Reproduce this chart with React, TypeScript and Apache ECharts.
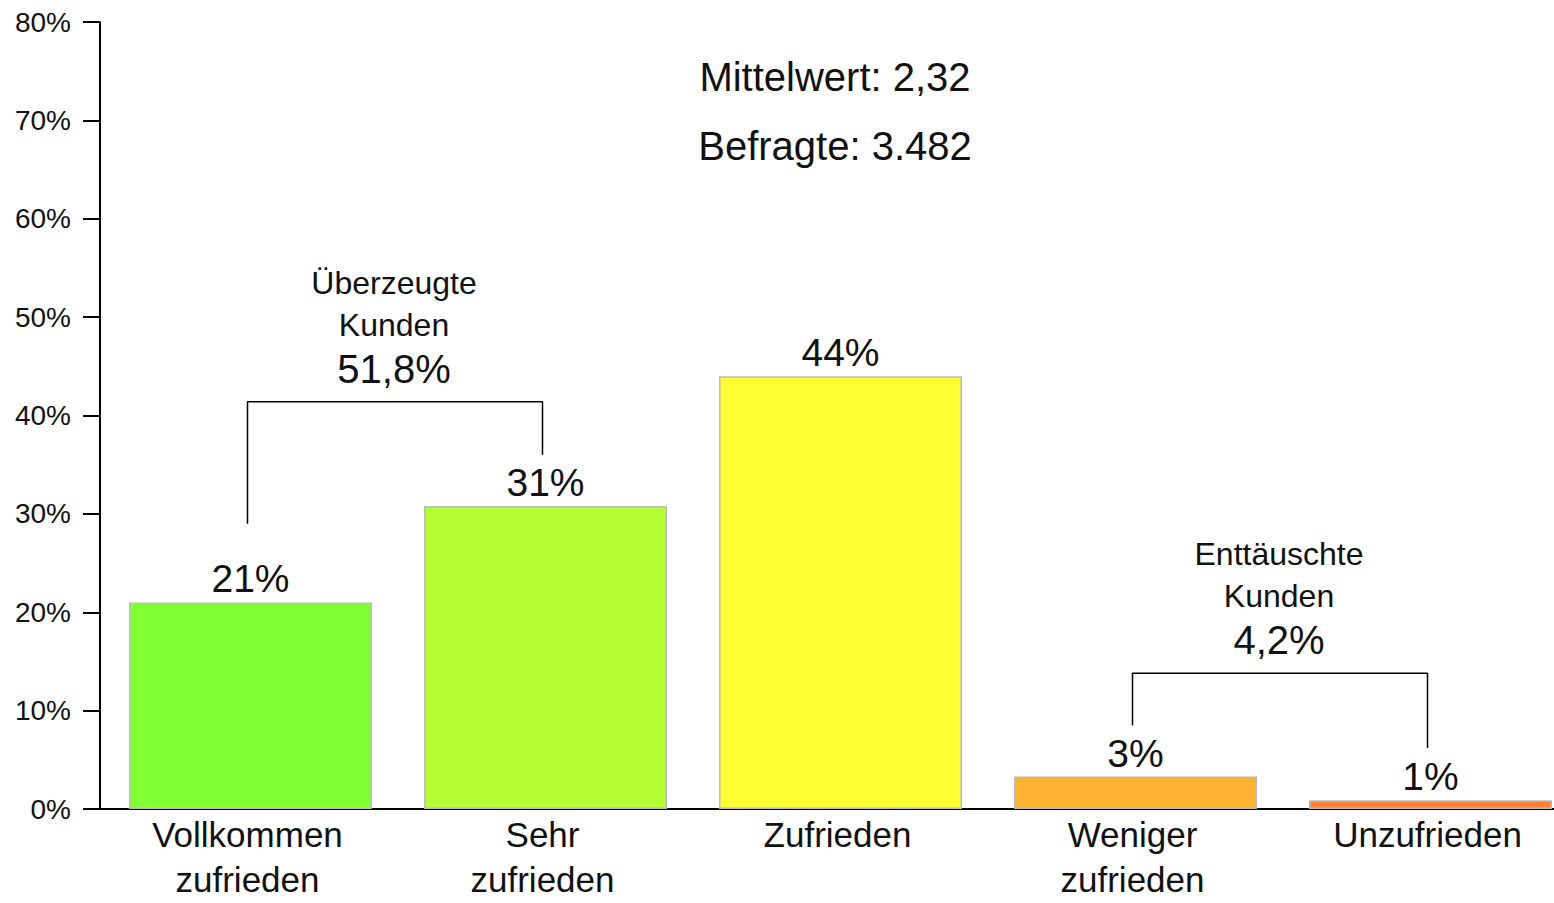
import React, { useEffect, useRef } from 'react';
import * as echarts from 'echarts';

const FONT = '"Liberation Sans", Arial, sans-serif';

const categories = ['Vollkommen\nzufrieden', 'Sehr\nzufrieden', 'Zufrieden', 'Weniger\nzufrieden', 'Unzufrieden'];
const shares = [21.0, 30.8, 44.0, 3.3, 0.9];
const barColors = ['#80ff33', '#b3ff33', '#ffff33', '#ffb333', '#ff8033'];
const yMin = 0;
const yMax = 80;
const yInterval = 10;
const bracketConvinced = [[0, 29.0], [0, 41.4], [1, 41.4], [1, 36.0]];
const bracketDisappointed = [[3, 8.5], [3, 13.8], [4, 13.8], [4, 6.2]];
const groupConvincedLines = ['Überzeugte', 'Kunden', '51,8%'];
const groupDisappointedLines = ['Enttäuschte', 'Kunden', '4,2%'];
const statsLines = ['Mittelwert: 2,32', 'Befragte: 3.482'];

function txt(text: string, x: number, y: number, size: number) {
  return {
    type: 'text',
    x,
    y,
    style: {
      text,
      fontSize: size,
      fontFamily: FONT,
      fill: '#111',
      align: 'center',
      verticalAlign: 'middle',
    },
  };
}

export default function App() {
  const ref = useRef<HTMLDivElement>(null);
  useEffect(() => {
    if (!ref.current) return;
    const chart = echarts.init(ref.current, undefined, { renderer: 'svg' });
    const gridBase = { top: 22, height: 787, width: 1475, outerBoundsMode: 'none', containLabel: false };
    chart.setOption({
      animation: false,
      backgroundColor: '#fff',
      textStyle: { fontFamily: FONT },
      grid: [
        { ...gridBase, left: 100 },
        { ...gridBase, left: 103 },
      ],
      xAxis: [
        {
          type: 'category',
          gridIndex: 0,
          data: categories,
          boundaryGap: true,
          axisLine: { show: true, lineStyle: { color: '#000', width: 2 } },
          axisTick: { show: false },
          axisLabel: {
            interval: 0,
            fontSize: 35,
            lineHeight: 45,
            margin: 3,
            color: '#111',
            fontFamily: FONT,
          },
          splitLine: { show: false },
        },
        {
          type: 'category',
          gridIndex: 1,
          data: categories,
          boundaryGap: true,
          show: false,
        },
      ],
      yAxis: [
        {
          type: 'value',
          gridIndex: 0,
          min: yMin,
          max: yMax,
          interval: yInterval,
          axisLine: { show: true, lineStyle: { color: '#000', width: 2 } },
          axisTick: { show: true, length: 17, lineStyle: { color: '#000', width: 2 } },
          axisLabel: {
            formatter: '{value}%',
            fontSize: 28,
            margin: 29,
            color: '#111',
            fontFamily: FONT,
          },
          splitLine: { show: false },
        },
        {
          type: 'value',
          gridIndex: 1,
          min: yMin,
          max: yMax,
          interval: yInterval,
          show: false,
          splitLine: { show: false },
        },
      ],
      series: [
        {
          type: 'bar',
          xAxisIndex: 1,
          yAxisIndex: 1,
          barWidth: 243,
          data: shares.map((v, i) => ({ value: v, itemStyle: { color: barColors[i] } })),
          itemStyle: { borderColor: '#bbb', borderWidth: 1.5 },
          label: {
            show: true,
            position: 'top',
            distance: 4,
            formatter: (p: any) => Math.round(p.value) + '%',
            fontSize: 39,
            color: '#111',
            fontFamily: FONT,
          },
        },
        {
          type: 'line',
          xAxisIndex: 0,
          yAxisIndex: 0,
          data: bracketConvinced,
          symbol: 'none',
          lineStyle: { color: '#000', width: 1.5 },
          z: 5,
        },
        {
          type: 'line',
          xAxisIndex: 0,
          yAxisIndex: 0,
          data: bracketDisappointed,
          symbol: 'none',
          lineStyle: { color: '#000', width: 1.5 },
          z: 5,
        },
      ],
      graphic: [
        txt(statsLines[0], 835, 77, 40),
        txt(statsLines[1], 835, 146, 40),
        txt(groupConvincedLines[0], 394, 283, 32),
        txt(groupConvincedLines[1], 394, 325, 32),
        txt(groupConvincedLines[2], 394, 369, 40),
        txt(groupDisappointedLines[0], 1279, 554, 32),
        txt(groupDisappointedLines[1], 1279, 596, 32),
        txt(groupDisappointedLines[2], 1279, 640, 40),
      ],
    });
    return () => chart.dispose();
  }, []);
  return (
    <div
      ref={ref}
      style={{ position: 'absolute', left: 0, top: 0, width: 1554, height: 903 }}
    />
  );
}
